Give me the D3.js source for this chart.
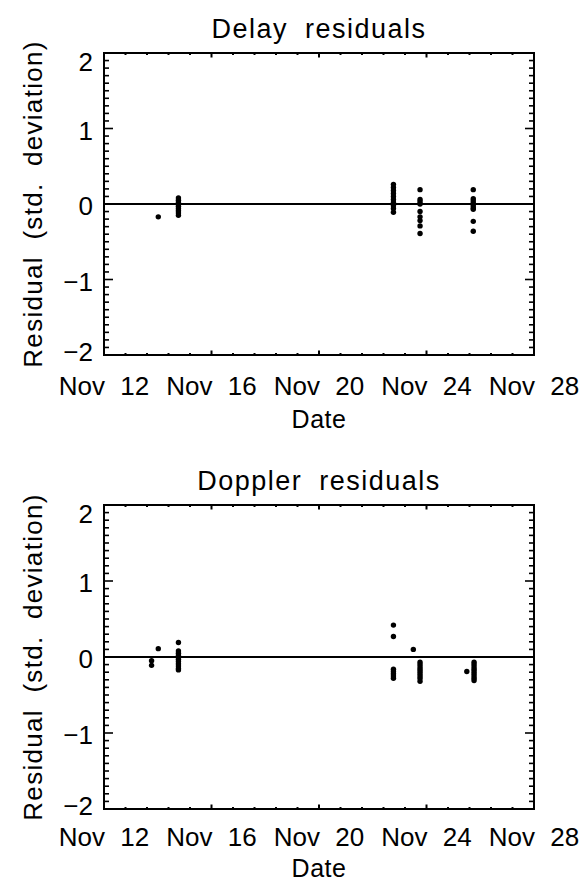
<!DOCTYPE html>
<html>
<head>
<meta charset="utf-8">
<script src="https://cdn.jsdelivr.net/npm/d3@7.9.0/dist/d3.min.js"></script>
<style>
  body { margin: 0; background: #fff; }
  text { font-family: "Liberation Sans", Arial, sans-serif; fill: #000; word-spacing: 8px; }
</style>
</head>
<body>
<svg id="chart" width="582" height="883"></svg>
<script>
// axis ticks
const xTickDays = [12, 16, 20, 24, 28];
const xTickLabels = ['Nov 12', 'Nov 16', 'Nov 20', 'Nov 24', 'Nov 28'];
const yTicks = [-2, -1, 0, 1, 2];
const yTickLabels = ['\u22122', '\u22121', '0', '1', '2'];

// delay residuals: day of November, residuals (std. dev.) observed that day
const delayDays = [14.02, 14.77, 22.77, 23.76, 25.74];
const delayResiduals = [
  [-0.17],
  [0.08, 0.05, 0.02, 0.0, -0.03, -0.06, -0.09, -0.12, -0.15],
  [0.26, 0.22, 0.18, 0.14, 0.10, 0.06, 0.02, -0.02, -0.06, -0.11],
  [0.19, 0.06, 0.03, 0.0, -0.10, -0.17, -0.22, -0.29, -0.39],
  [0.19, 0.07, 0.04, 0.01, -0.02, -0.05, -0.07, -0.23, -0.36]
];

// doppler residuals
const dopplerDays = [13.77, 14.02, 14.77, 22.77, 23.51, 23.76, 25.5, 25.77];
const dopplerResiduals = [
  [-0.05, -0.11],
  [0.11],
  [0.19, 0.08, 0.05, 0.02, 0.0, -0.03, -0.06, -0.09, -0.12, -0.15, -0.17],
  [0.42, 0.27, -0.16, -0.19, -0.22, -0.25, -0.28],
  [0.10],
  [-0.07, -0.10, -0.13, -0.16, -0.19, -0.22, -0.25, -0.28, -0.32],
  [-0.19],
  [-0.07, -0.10, -0.13, -0.16, -0.19, -0.22, -0.25, -0.28, -0.31]
];

const svg = d3.select('#chart');
svg.append('rect').attr('width', 582).attr('height', 883).attr('fill', '#fff');

function drawPanel(title, days, residuals, top, bottom, labelY, dateY) {
  const left = 104, right = 534;
  const x = d3.scaleLinear().domain([12, 28]).range([left, right]);
  const y = d3.scaleLinear().domain([-2, 2]).range([bottom, top]);
  const g = svg.append('g');

  // minor + major ticks on all four sides, pointing inward
  const xMinor = d3.range(0, 21).map(i => 12 + i * 0.8);
  xMinor.forEach((d, i) => {
    const len = i % 5 === 0 ? 4.5 : 2;
    g.append('line').attr('x1', x(d)).attr('x2', x(d))
      .attr('y1', bottom).attr('y2', bottom - len)
      .attr('stroke', '#000').attr('stroke-width', 2);
    g.append('line').attr('x1', x(d)).attr('x2', x(d))
      .attr('y1', top).attr('y2', top + len)
      .attr('stroke', '#000').attr('stroke-width', 2);
  });
  const yMinor = d3.range(0, 41).map(i => -2 + i * 0.1);
  yMinor.forEach((d, i) => {
    const len = i % 10 === 0 ? 9 : 5;
    g.append('line').attr('x1', left).attr('x2', left + len)
      .attr('y1', y(d)).attr('y2', y(d))
      .attr('stroke', '#000').attr('stroke-width', 1.6);
    g.append('line').attr('x1', right).attr('x2', right - len)
      .attr('y1', y(d)).attr('y2', y(d))
      .attr('stroke', '#000').attr('stroke-width', 1.6);
  });

  // frame
  g.append('rect')
    .attr('x', left).attr('y', top)
    .attr('width', right - left).attr('height', bottom - top)
    .attr('fill', 'none').attr('stroke', '#000').attr('stroke-width', 2);

  // zero line
  g.append('line')
    .attr('x1', left).attr('x2', right)
    .attr('y1', y(0)).attr('y2', y(0))
    .attr('stroke', '#000').attr('stroke-width', 2);

  // tick labels
  xTickDays.forEach((d, i) => {
    g.append('text')
      .attr('x', x(d)).attr('y', labelY)
      .attr('text-anchor', 'middle')
      .attr('font-size', 26)
      .text(xTickLabels[i]);
  });
  yTicks.forEach((d, i) => {
    const dy = d === 2 ? 18 : d === -2 ? 6 : 11;
    g.append('text')
      .attr('x', left - 11).attr('y', y(d) + dy)
      .attr('text-anchor', 'end')
      .attr('font-size', 26)
      .text(yTickLabels[i]);
  });

  // titles
  g.append('text')
    .attr('x', (left + right) / 2).attr('y', top - 15)
    .attr('text-anchor', 'middle')
    .attr('font-size', 27)
    .attr('letter-spacing', 1.5)
    .text(title);
  g.append('text')
    .attr('x', (left + right) / 2).attr('y', dateY)
    .attr('text-anchor', 'middle')
    .attr('font-size', 25)
    .attr('letter-spacing', 0.5)
    .text('Date');
  g.append('text')
    .attr('transform', `translate(42,${(top + bottom) / 2}) rotate(-90)`)
    .attr('text-anchor', 'middle')
    .attr('font-size', 26)
    .attr('letter-spacing', 1.3)
    .text('Residual (std. deviation)');

  // points
  const points = days.flatMap((d, i) => residuals[i].map(r => ({ day: d, r })));
  g.selectAll('circle.pt')
    .data(points)
    .join('circle')
    .attr('class', 'pt')
    .attr('cx', d => x(d.day))
    .attr('cy', d => y(d.r))
    .attr('r', 2.7)
    .attr('fill', '#000');
}

drawPanel('Delay residuals', delayDays, delayResiduals, 53, 355, 395, 428);
drawPanel('Doppler residuals', dopplerDays, dopplerResiduals, 505, 809, 846, 877);
</script>
</body>
</html>
